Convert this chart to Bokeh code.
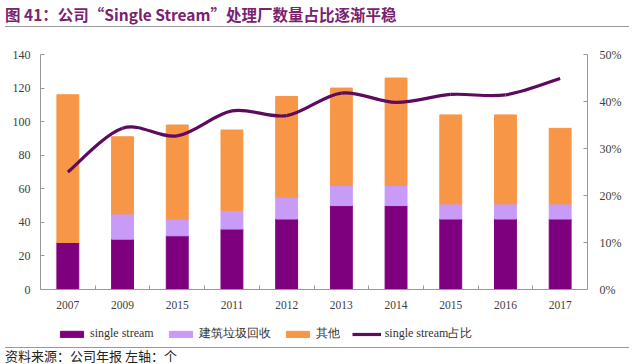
from bokeh.plotting import figure
from bokeh.models import (Range1d, LinearAxis, FixedTicker, SingleIntervalTicker,
                          PrintfTickFormatter, Legend, LegendItem, Div, ColumnDataSource)
from bokeh.layouts import column
from bokeh.embed import file_html
from bokeh.resources import INLINE

# ---- data ----
years = ["2007", "2009", "2015", "2011", "2012", "2013", "2014", "2015", "2016", "2017"]
single_stream = [28, 30, 32, 36, 42, 50, 50, 42, 42, 42]
construction = [0, 15, 10, 11, 13, 12, 12, 9, 9, 9]
others = [88, 46, 56, 48, 60, 58, 64, 53, 53, 45]
share_pct = [25.0, 34.3, 32.7, 38.0, 37.0, 41.8, 39.8, 41.5, 41.4, 44.9]

series_names = ["single stream", "建筑垃圾回收", "其他", "single stream占比"]
colors = ["#7F007F", "#C89BF7", "#F79646"]
line_color = "#5E0A5E"

LEFT_MAX, RIGHT_MAX = 140, 50
PLOT_PX, BELOW_PX = 235, 53   # frame pixels above y=0 and below it (room for labels + legend)

xs = list(range(len(years)))
src = ColumnDataSource(dict(x=xs, ss=single_stream, cc=construction, ot=others))

p = figure(width=624, height=310, output_backend="svg", toolbar_location=None,
           x_range=Range1d(-0.5, len(years) - 0.5),
           y_range=Range1d(-LEFT_MAX * BELOW_PX / PLOT_PX, LEFT_MAX),
           min_border_left=40, min_border_right=35, min_border_top=22, min_border_bottom=0)
p.outline_line_color = None
p.grid.grid_line_color = None
p.extra_y_ranges = {"pct": Range1d(-RIGHT_MAX * BELOW_PX / PLOT_PX, RIGHT_MAX)}

bars = p.vbar_stack(["ss", "cc", "ot"], x="x", width=0.4, color=colors, source=src)

# smoothed line (Catmull-Rom -> cubic Bezier through the data points)
n = len(xs)
x0, y0, x1, y1, cx0, cy0, cx1, cy1 = [], [], [], [], [], [], [], []
for i in range(n - 1):
    pa = (xs[max(i - 1, 0)], share_pct[max(i - 1, 0)])
    pb = (xs[i], share_pct[i])
    pc = (xs[i + 1], share_pct[i + 1])
    pd = (xs[min(i + 2, n - 1)], share_pct[min(i + 2, n - 1)])
    x0.append(pb[0]); y0.append(pb[1]); x1.append(pc[0]); y1.append(pc[1])
    cx0.append(pb[0] + (pc[0] - pa[0]) / 6); cy0.append(pb[1] + (pc[1] - pa[1]) / 6)
    cx1.append(pc[0] - (pd[0] - pb[0]) / 6); cy1.append(pc[1] - (pd[1] - pb[1]) / 6)
curve = p.bezier(x0=x0, y0=y0, x1=x1, y1=y1, cx0=cx0, cy0=cy0, cx1=cx1, cy1=cy1,
                 line_color=line_color, line_width=3.2, y_range_name="pct")

axis_color = "#999999"
label_color = "#404040"
serif = "Liberation Serif"

# x axis, pinned at y = 0
p.xaxis.fixed_location = 0
p.xaxis.ticker = FixedTicker(ticks=xs, minor_ticks=[v + 0.5 for v in xs[:-1]])
p.xaxis.major_label_overrides = {v: years[v] for v in xs}
p.xaxis.major_tick_in = 0
p.xaxis.major_tick_out = 0
p.xaxis.minor_tick_in = 4
p.xaxis.minor_tick_out = 0
p.xaxis.minor_tick_line_color = axis_color
p.xaxis.major_label_standoff = 11

# left axis
p.yaxis.ticker = SingleIntervalTicker(interval=20, num_minor_ticks=0)
p.yaxis.bounds = (0, LEFT_MAX)
p.yaxis.major_tick_in = 4
p.yaxis.major_tick_out = 0
p.yaxis.major_label_standoff = 10

# right axis
ra = LinearAxis(y_range_name="pct", ticker=SingleIntervalTicker(interval=10, num_minor_ticks=0),
                formatter=PrintfTickFormatter(format="%d%%"), bounds=(0, RIGHT_MAX))
ra.major_tick_in = 4
ra.major_tick_out = 0
ra.major_label_standoff = 12
p.add_layout(ra, "right")

for ax in [p.xaxis[0], p.yaxis[0], ra]:
    ax.axis_line_color = axis_color
    ax.major_tick_line_color = axis_color
    ax.major_label_text_font = serif
    ax.major_label_text_font_size = "12px"
    ax.major_label_text_color = label_color
p.xaxis.major_label_text_font_size = "11.5px"

legend = Legend(items=[LegendItem(label=series_names[0], renderers=[bars[0]]),
                       LegendItem(label=series_names[1], renderers=[bars[1]]),
                       LegendItem(label=series_names[2], renderers=[bars[2]]),
                       LegendItem(label=series_names[3], renderers=[curve])],
                orientation="horizontal", location=(17, 0))
legend.glyph_width = 29
legend.glyph_height = 8
legend.label_height = 14
legend.label_standoff = 4
legend.spacing = 12
legend.padding = 2
legend.margin = 0
legend.border_line_color = None
legend.background_fill_alpha = 0
legend.label_text_font = serif
legend.label_text_font_size = "12px"
legend.label_text_color = "#333333"
p.add_layout(legend, "center")

title = Div(text="图 41：公司“Single Stream”处理厂数量占比逐渐平稳", width=624, height=22,
            styles={"font-size": "15.5px", "font-weight": "bold", "color": "#7A2270",
                    "font-family": "'Noto Sans CJK SC', sans-serif", "line-height": "18px",
                    "border-bottom": "1px solid #999999", "box-sizing": "border-box"})
source = Div(text="资料来源：公司年报 左轴：个", width=624, height=16,
             styles={"font-size": "13px", "color": "#222222",
                     "font-family": "'Noto Sans CJK SC', sans-serif", "line-height": "15px",
                     "border-top": "1px solid #999999", "box-sizing": "border-box"})

layout = column(title, p, source)
open("out.html", "w").write(file_html(layout, INLINE))
